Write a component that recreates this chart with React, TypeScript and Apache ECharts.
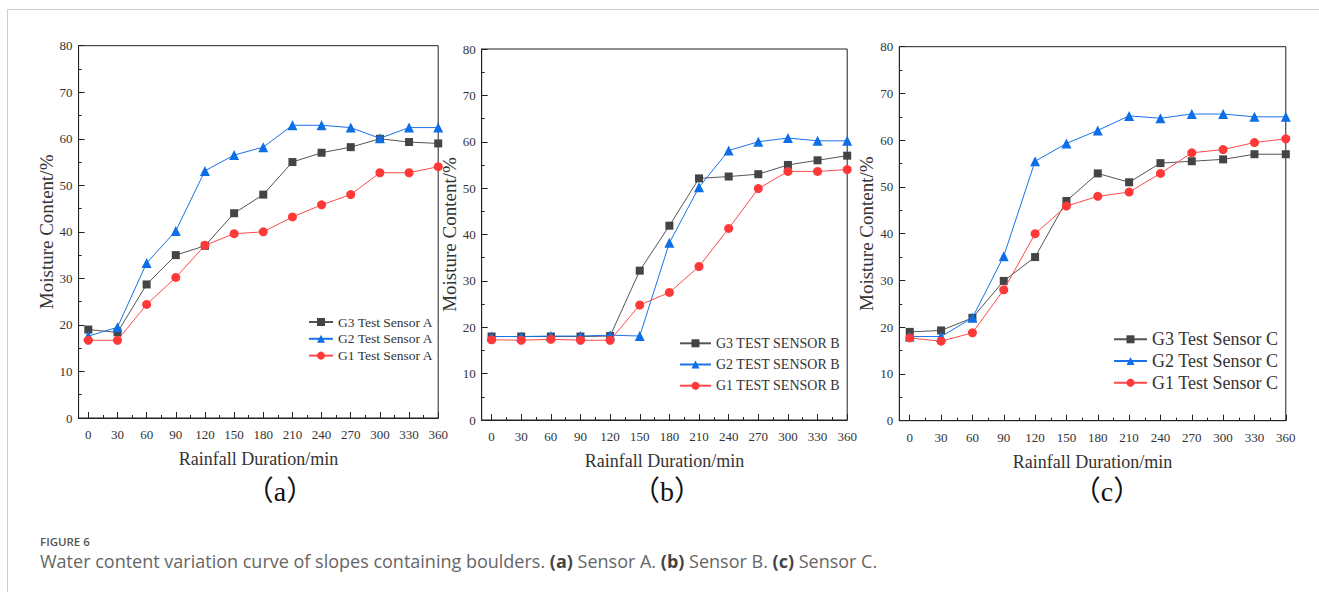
import React, { useEffect, useRef } from "react";
import * as echarts from "echarts";

// ---- data ----
const TIMES = [0, 30, 60, 90, 120, 150, 180, 210, 240, 270, 300, 330, 360];
const X_MAJOR_TICKS = [0, 30, 60, 90, 120, 150, 180, 210, 240, 270, 300, 330, 360];
const X_MINOR_TICKS = [15, 45, 75, 105, 135, 165, 195, 225, 255, 285, 315, 345];

const A_G3 = [19, 18.4, 28.7, 35, 37, 44, 48, 55, 57, 58.2, 60, 59.3, 59];
const A_G2 = [17.6, 19.5, 33.3, 40.2, 53.1, 56.5, 58.2, 62.9, 62.9, 62.4, 60.1, 62.4, 62.4];
const A_G1 = [16.7, 16.7, 24.4, 30.2, 37.1, 39.6, 40, 43.2, 45.8, 48, 52.7, 52.7, 54];

const B_G3 = [18, 18, 18, 18, 18.1, 32.2, 41.9, 52.1, 52.5, 53, 55, 56, 57];
const B_G2 = [18, 18, 18.1, 18.1, 18.3, 18.1, 38.2, 50.2, 58.1, 60, 60.8, 60.2, 60.2];
const B_G1 = [17.3, 17.2, 17.4, 17.2, 17.2, 24.8, 27.5, 33.1, 41.3, 49.9, 53.6, 53.6, 54];

const C_G3 = [19, 19.3, 22, 29.9, 35, 47, 52.9, 51, 55.1, 55.5, 55.9, 57, 57];
const C_G2 = [18, 18, 22, 35.2, 55.5, 59.3, 62.1, 65.2, 64.7, 65.6, 65.6, 65, 65];
const C_G1 = [17.7, 17, 18.8, 28, 40, 45.9, 48, 48.9, 52.9, 57.3, 58, 59.5, 60.3];

const NAMES_A = ["G3 Test Sensor A", "G2 Test Sensor A", "G1 Test Sensor A"];
const NAMES_B = ["G3 TEST SENSOR B", "G2 TEST SENSOR B", "G1 TEST SENSOR B"];
const NAMES_C = ["G3 Test Sensor C", "G2 Test Sensor C", "G1 Test Sensor C"];
const PANEL_LABELS = ["（a）", "（b）", "（c）"];
const X_TITLE = "Rainfall Duration/min";
const Y_TITLE = "Moisture Content/%";
const FIG_LABEL = "FIGURE 6";

// ---- layout / style ----
const SERIF = "'Liberation Serif', 'Times New Roman', serif";
const AX = "#222";
const TXT = "#333";
const COLORS = [
  { line: "#555555", sym: "#444444", symbol: "rect", size: 8 },
  { line: "#1a73e8", sym: "#0d6fe8", symbol: "triangle", size: 10 },
  { line: "#ff4a4a", sym: "#ff3838", symbol: "circle", size: 9 },
];

const PANELS = [
  {
    grid: { left: 78.6, top: 45.7, width: 359.6, height: 372.3 },
    names: NAMES_A,
    values: [A_G3, A_G2, A_G1],
    legend: { left: 308, top: 315, itemWidth: 24, itemGap: 2.8, fontSize: 13.5 },
    yGap: 21,
    label: { x: 280, y: 491 },
  },
  {
    grid: { left: 481.7, top: 49, width: 365.5, height: 371 },
    names: NAMES_B,
    values: [B_G3, B_G2, B_G1],
    legend: { left: 679, top: 336.3, itemWidth: 31, itemGap: 7.2, fontSize: 14 },
    yGap: 17,
    label: { x: 667, y: 491 },
  },
  {
    grid: { left: 899.3, top: 46.7, width: 386.5, height: 374 },
    names: NAMES_C,
    values: [C_G3, C_G2, C_G1],
    legend: { left: 1113, top: 330.3, itemWidth: 33, itemGap: 3.7, fontSize: 18 },
    yGap: 22,
    label: { x: 1107, y: 491 },
  },
];

export default function App() {
  const ref = useRef<HTMLDivElement>(null);

  useEffect(() => {
    document.body.style.margin = "0";
    const chart = echarts.init(ref.current!, null, { renderer: "svg" });

    const grids: any[] = [];
    const xAxes: any[] = [];
    const yAxes: any[] = [];
    const series: any[] = [];
    const legends: any[] = [];
    const graphics: any[] = [];

    PANELS.forEach((p, i) => {
      grids.push({
        ...p.grid,
        show: true,
        borderColor: AX,
        borderWidth: 1,
        backgroundColor: "transparent",
      });
      // main x axis
      xAxes.push({
        type: "value",
        gridIndex: i,
        position: "bottom",
        min: -10,
        max: 360,
        splitLine: { show: false },
        axisLine: { show: true, onZero: false, lineStyle: { color: AX, width: 1 } },
        axisTick: { show: true, inside: true, length: 6, customValues: X_MAJOR_TICKS, lineStyle: { color: AX } },
        axisLabel: {
          customValues: X_MAJOR_TICKS,
          margin: 10,
          color: TXT,
          fontFamily: SERIF,
          fontSize: 13,
        },
        name: X_TITLE,
        nameLocation: "middle",
        nameGap: 32,
        nameTextStyle: { color: TXT, fontFamily: SERIF, fontSize: 18 },
      });
      // minor tick axis (shifted onto the bottom edge)
      xAxes.push({
        type: "value",
        gridIndex: i,
        position: "top",
        offset: -p.grid.height,
        min: -10,
        max: 360,
        splitLine: { show: false },
        axisLine: { show: false },
        axisTick: { show: true, inside: false, length: 3, customValues: X_MINOR_TICKS, lineStyle: { color: AX } },
        axisLabel: { show: false },
      });
      yAxes.push({
        type: "value",
        gridIndex: i,
        min: 0,
        max: 80,
        interval: 10,
        splitLine: { show: false },
        axisLine: { show: true, onZero: false, lineStyle: { color: AX, width: 1 } },
        axisTick: { show: true, inside: true, length: 6, lineStyle: { color: AX } },
        minorTick: { show: true, splitNumber: 2, length: 3, lineStyle: { color: AX } },
        axisLabel: { margin: 6, color: TXT, fontFamily: SERIF, fontSize: 13 },
        name: Y_TITLE,
        nameLocation: "middle",
        nameGap: p.yGap,
        nameTextStyle: { color: TXT, fontFamily: SERIF, fontSize: 19 },
      });
      p.values.forEach((vals, k) => {
        const c = COLORS[k];
        series.push({
          type: "line",
          name: p.names[k],
          xAxisIndex: i * 2,
          yAxisIndex: i,
          data: TIMES.map((t, j) => [t, vals[j]]),
          symbol: c.symbol,
          symbolSize: c.size,
          showSymbol: true,
          lineStyle: { color: c.line, width: 1 },
          itemStyle: { color: c.sym, borderWidth: 0 },
          z: 2 + k,
        });
      });
      legends.push({
        orient: "vertical",
        left: p.legend.left,
        top: p.legend.top,
        padding: 0,
        itemWidth: p.legend.itemWidth,
        itemHeight: 10,
        itemGap: p.legend.itemGap,
        selectedMode: false,
        data: p.names,
        textStyle: { color: TXT, fontFamily: SERIF, fontSize: p.legend.fontSize },
      });
      graphics.push({
        type: "text",
        x: p.label.x,
        y: p.label.y,
        style: {
          text: PANEL_LABELS[i],
          fill: "#111",
          font: `28px 'Liberation Serif', 'Noto Sans CJK SC', serif`,
          align: "center",
          verticalAlign: "middle",
        },
      });
    });

    // frame lines
    graphics.push({
      type: "line",
      shape: { x1: 7.5, y1: 9.5, x2: 1319, y2: 9.5 },
      style: { stroke: "#cccccc", lineWidth: 1 },
    });
    graphics.push({
      type: "line",
      shape: { x1: 7.5, y1: 9.5, x2: 7.5, y2: 592 },
      style: { stroke: "#cccccc", lineWidth: 1 },
    });
    graphics.push({
      type: "text",
      x: 40,
      y: 541,
      style: {
        text: FIG_LABEL,
        fill: "#555",
        font: `600 11.5px 'Open Sans', sans-serif`,
        verticalAlign: "middle",
      },
    });
    graphics.push({
      type: "text",
      x: 40,
      y: 561,
      style: {
        text:
          "Water content variation curve of slopes containing boulders. {b|(a)} Sensor A. {b|(b)} Sensor B. {b|(c)} Sensor C.",
        fill: "#666",
        font: `18px 'Open Sans', sans-serif`,
        lineHeight: 20,
        verticalAlign: "middle",
        rich: {
          b: { fontWeight: "bold", fill: "#444", fontSize: 18, lineHeight: 20, fontFamily: "'Open Sans', sans-serif" },
        },
      },
    });

    chart.setOption({
      animation: false,
      backgroundColor: "#ffffff",
      grid: grids,
      xAxis: xAxes,
      yAxis: yAxes,
      series,
      legend: legends,
      graphic: graphics,
    });

    return () => chart.dispose();
  }, []);

  return <div ref={ref} style={{ width: 1319, height: 592 }} />;
}
